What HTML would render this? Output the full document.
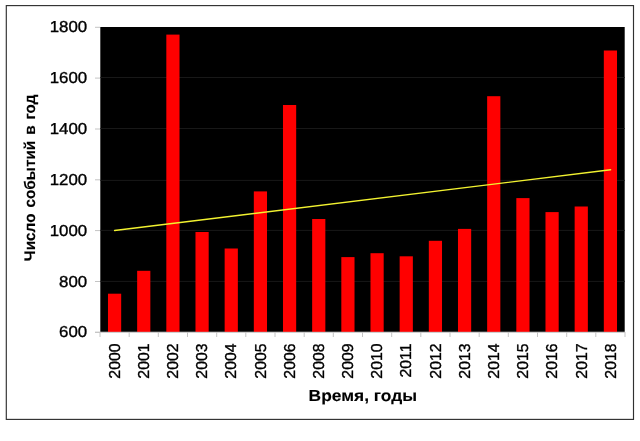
<!DOCTYPE html>
<html lang="ru"><head><meta charset="utf-8"><title>Число событий в год</title>
<style>
html,body{margin:0;padding:0;background:#fff;}
body{width:640px;height:441px;overflow:hidden;}
svg{display:block;}
text{font-family:"Liberation Sans",Arial,sans-serif;fill:#000;stroke:#000;stroke-width:0.35px;text-rendering:geometricPrecision;}
.b{font-weight:bold;stroke-width:0.12px;}
</style></head><body>
<svg width="640" height="441" viewBox="0 0 640 441">
<rect x="0" y="0" width="640" height="441" fill="#fff"/>
<rect x="6.3" y="5.6" width="627.2" height="413.8" fill="#fff" stroke="#303030" stroke-width="1.15"/>
<rect x="100.3" y="27" width="524.4" height="304.9" fill="#000"/>
<line x1="100.3" x2="624.7" y1="77.5" y2="77.5" stroke="#181818" stroke-width="1"/>
<line x1="100.3" x2="624.7" y1="128.5" y2="128.5" stroke="#181818" stroke-width="1"/>
<line x1="100.3" x2="624.7" y1="180.4" y2="180.4" stroke="#181818" stroke-width="1"/>
<line x1="100.3" x2="624.7" y1="230.4" y2="230.4" stroke="#181818" stroke-width="1"/>
<line x1="100.3" x2="624.7" y1="281.4" y2="281.4" stroke="#181818" stroke-width="1"/>
<rect x="107.98" y="293.7" width="13.2" height="38.3" fill="#ff0000"/>
<rect x="137.15" y="270.8" width="13.2" height="61.2" fill="#ff0000"/>
<rect x="166.32" y="34.6" width="13.2" height="297.4" fill="#ff0000"/>
<rect x="195.48" y="232.0" width="13.2" height="100.0" fill="#ff0000"/>
<rect x="224.65" y="248.5" width="13.2" height="83.5" fill="#ff0000"/>
<rect x="253.82" y="191.4" width="13.2" height="140.6" fill="#ff0000"/>
<rect x="282.98" y="105.0" width="13.2" height="227.0" fill="#ff0000"/>
<rect x="312.15" y="219.0" width="13.2" height="113.0" fill="#ff0000"/>
<rect x="341.32" y="257.1" width="13.2" height="74.9" fill="#ff0000"/>
<rect x="370.48" y="253.2" width="13.2" height="78.8" fill="#ff0000"/>
<rect x="399.65" y="256.3" width="13.2" height="75.7" fill="#ff0000"/>
<rect x="428.82" y="240.8" width="13.2" height="91.2" fill="#ff0000"/>
<rect x="457.98" y="228.9" width="13.2" height="103.1" fill="#ff0000"/>
<rect x="487.15" y="96.2" width="13.2" height="235.8" fill="#ff0000"/>
<rect x="516.32" y="198.1" width="13.2" height="133.9" fill="#ff0000"/>
<rect x="545.48" y="212.1" width="13.2" height="119.9" fill="#ff0000"/>
<rect x="574.65" y="206.5" width="13.2" height="125.5" fill="#ff0000"/>
<rect x="603.82" y="50.5" width="13.2" height="281.5" fill="#ff0000"/>
<line x1="114.6" y1="230.5" x2="610.6" y2="169.8" stroke="#f2f230" stroke-width="1.45" stroke-linecap="round"/>
<line x1="95" x2="625.0" y1="332.3" y2="332.3" stroke="#c4c4c4" stroke-width="1"/>
<line x1="95" x2="100.0" y1="27.3" y2="27.3" stroke="#c4c4c4" stroke-width="1"/>
<text transform="translate(87.2,32.3) scale(1.06,1)" font-size="15.9" text-anchor="end">1800</text>
<line x1="95" x2="100.0" y1="78.1" y2="78.1" stroke="#c4c4c4" stroke-width="1"/>
<text transform="translate(87.2,83.1) scale(1.06,1)" font-size="15.9" text-anchor="end">1600</text>
<line x1="95" x2="100.0" y1="129.0" y2="129.0" stroke="#c4c4c4" stroke-width="1"/>
<text transform="translate(87.2,134.0) scale(1.06,1)" font-size="15.9" text-anchor="end">1400</text>
<line x1="95" x2="100.0" y1="179.8" y2="179.8" stroke="#c4c4c4" stroke-width="1"/>
<text transform="translate(87.2,184.8) scale(1.06,1)" font-size="15.9" text-anchor="end">1200</text>
<line x1="95" x2="100.0" y1="230.6" y2="230.6" stroke="#c4c4c4" stroke-width="1"/>
<text transform="translate(87.2,235.6) scale(1.06,1)" font-size="15.9" text-anchor="end">1000</text>
<line x1="95" x2="100.0" y1="281.5" y2="281.5" stroke="#c4c4c4" stroke-width="1"/>
<text transform="translate(87.2,286.5) scale(1.06,1)" font-size="15.9" text-anchor="end">800</text>
<line x1="95" x2="100.0" y1="332.3" y2="332.3" stroke="#c4c4c4" stroke-width="1"/>
<text transform="translate(87.2,337.3) scale(1.06,1)" font-size="15.9" text-anchor="end">600</text>
<line x1="100.0" x2="100.0" y1="332.0" y2="337.0" stroke="#c4c4c4" stroke-width="1"/>
<line x1="129.2" x2="129.2" y1="332.0" y2="337.0" stroke="#c4c4c4" stroke-width="1"/>
<line x1="158.3" x2="158.3" y1="332.0" y2="337.0" stroke="#c4c4c4" stroke-width="1"/>
<line x1="187.5" x2="187.5" y1="332.0" y2="337.0" stroke="#c4c4c4" stroke-width="1"/>
<line x1="216.7" x2="216.7" y1="332.0" y2="337.0" stroke="#c4c4c4" stroke-width="1"/>
<line x1="245.8" x2="245.8" y1="332.0" y2="337.0" stroke="#c4c4c4" stroke-width="1"/>
<line x1="275.0" x2="275.0" y1="332.0" y2="337.0" stroke="#c4c4c4" stroke-width="1"/>
<line x1="304.2" x2="304.2" y1="332.0" y2="337.0" stroke="#c4c4c4" stroke-width="1"/>
<line x1="333.3" x2="333.3" y1="332.0" y2="337.0" stroke="#c4c4c4" stroke-width="1"/>
<line x1="362.5" x2="362.5" y1="332.0" y2="337.0" stroke="#c4c4c4" stroke-width="1"/>
<line x1="391.7" x2="391.7" y1="332.0" y2="337.0" stroke="#c4c4c4" stroke-width="1"/>
<line x1="420.8" x2="420.8" y1="332.0" y2="337.0" stroke="#c4c4c4" stroke-width="1"/>
<line x1="450.0" x2="450.0" y1="332.0" y2="337.0" stroke="#c4c4c4" stroke-width="1"/>
<line x1="479.2" x2="479.2" y1="332.0" y2="337.0" stroke="#c4c4c4" stroke-width="1"/>
<line x1="508.3" x2="508.3" y1="332.0" y2="337.0" stroke="#c4c4c4" stroke-width="1"/>
<line x1="537.5" x2="537.5" y1="332.0" y2="337.0" stroke="#c4c4c4" stroke-width="1"/>
<line x1="566.7" x2="566.7" y1="332.0" y2="337.0" stroke="#c4c4c4" stroke-width="1"/>
<line x1="595.8" x2="595.8" y1="332.0" y2="337.0" stroke="#c4c4c4" stroke-width="1"/>
<line x1="625.0" x2="625.0" y1="332.0" y2="337.0" stroke="#c4c4c4" stroke-width="1"/>
<text font-size="15.8" text-anchor="end" transform="translate(119.8,343.5) rotate(-90)">2000</text>
<text font-size="15.8" text-anchor="end" transform="translate(148.9,343.5) rotate(-90)">2001</text>
<text font-size="15.8" text-anchor="end" transform="translate(178.1,343.5) rotate(-90)">2002</text>
<text font-size="15.8" text-anchor="end" transform="translate(207.3,343.5) rotate(-90)">2003</text>
<text font-size="15.8" text-anchor="end" transform="translate(236.4,343.5) rotate(-90)">2004</text>
<text font-size="15.8" text-anchor="end" transform="translate(265.6,343.5) rotate(-90)">2005</text>
<text font-size="15.8" text-anchor="end" transform="translate(294.8,343.5) rotate(-90)">2006</text>
<text font-size="15.8" text-anchor="end" transform="translate(323.9,343.5) rotate(-90)">2008</text>
<text font-size="15.8" text-anchor="end" transform="translate(353.1,343.5) rotate(-90)">2009</text>
<text font-size="15.8" text-anchor="end" transform="translate(382.3,343.5) rotate(-90)">2010</text>
<text font-size="15.8" text-anchor="end" transform="translate(411.4,343.5) rotate(-90)">2011</text>
<text font-size="15.8" text-anchor="end" transform="translate(440.6,343.5) rotate(-90)">2012</text>
<text font-size="15.8" text-anchor="end" transform="translate(469.8,343.5) rotate(-90)">2013</text>
<text font-size="15.8" text-anchor="end" transform="translate(498.9,343.5) rotate(-90)">2014</text>
<text font-size="15.8" text-anchor="end" transform="translate(528.1,343.5) rotate(-90)">2015</text>
<text font-size="15.8" text-anchor="end" transform="translate(557.3,343.5) rotate(-90)">2016</text>
<text font-size="15.8" text-anchor="end" transform="translate(586.5,343.5) rotate(-90)">2017</text>
<text font-size="15.8" text-anchor="end" transform="translate(615.6,343.5) rotate(-90)">2018</text>
<text class="b" text-anchor="middle" transform="translate(35.2,177.8) rotate(-90)" font-size="15.35" word-spacing="1.6">Число событий в год</text>
<text class="b" font-size="16" text-anchor="middle" transform="translate(362.8,400.5) scale(1.085,1)">Время, годы</text>
</svg></body></html>
